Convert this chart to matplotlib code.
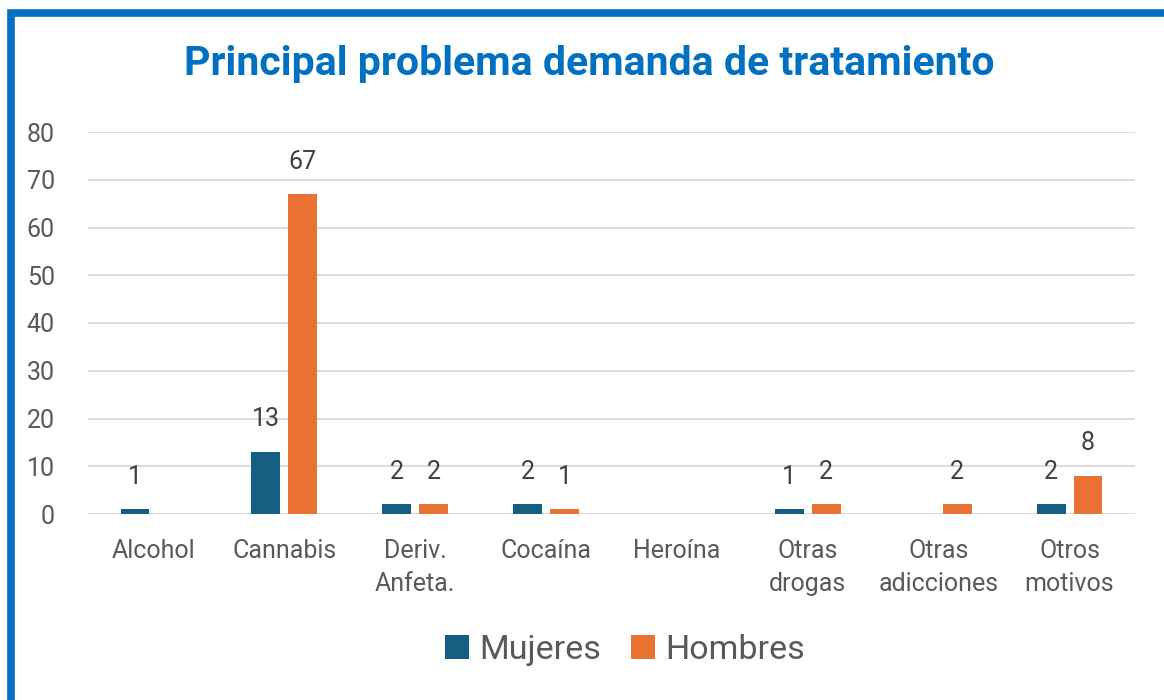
import matplotlib.pyplot as plt
import numpy as np
from matplotlib.patches import Rectangle

categorias = ['Alcohol', 'Cannabis', 'Deriv.\nAnfeta.', 'Cocaína', 'Heroína',
              'Otras\ndrogas', 'Otras\nadicciones', 'Otros\nmotivos']
mujeres = [1, 13, 2, 2, 0, 1, 0, 2]
hombres = [0, 67, 2, 1, 0, 2, 2, 8]

plt.rcParams['font.family'] = ['Roboto', 'DejaVu Sans']

fig = plt.figure(figsize=(11.64, 7), dpi=100)
ax = fig.add_axes([88/1164, 1-514/700, (1135-88)/1164, (514-132)/700])

x = np.arange(len(categorias))
w = 0.22
off = 0.141
b1 = ax.bar(x - off, mujeres, w, color='#156082', label='Mujeres', zorder=3)
b2 = ax.bar(x + off, hombres, w, color='#E97132', label='Hombres', zorder=3)

for bars, vals in ((b1, mujeres), (b2, hombres)):
    for r, v in zip(bars, vals):
        if v > 0:
            ax.text(r.get_x() + r.get_width()/2, v + 4.3, str(v), ha='center',
                    va='bottom', fontsize=18, color='#404040')

ax.set_xlim(-0.5, len(categorias) - 0.5)
ax.set_ylim(0, 80)
ax.set_yticks(range(0, 81, 10))
ax.set_xticks(x)
ax.set_xticklabels(categorias, linespacing=1.45)
ax.tick_params(axis='both', length=0, labelsize=18, labelcolor='#595959')
ax.tick_params(axis='x', pad=18)
ax.tick_params(axis='y', pad=24)
ax.grid(axis='y', color='#D9D9D9', linewidth=1.3, zorder=0)
for s in ax.spines.values():
    s.set_visible(False)

fig.text(0.506, 1-64/700, 'Principal problema demanda de tratamiento', ha='center',
         va='center', fontsize=29.5, fontweight='bold', color='#0070C0')

fig.legend(loc='center', bbox_to_anchor=(0.537, 1-650/700), ncol=2, frameon=False,
           fontsize=24.5, labelcolor='#595959', handlelength=0.7, handleheight=0.7,
           handletextpad=0.3, columnspacing=0.9)

# marco azul
fig.patches.append(Rectangle((11/1164, -0.05), 1.2, 1-13/700+0.05, transform=fig.transFigure,
                             fill=False, edgecolor='#0070C0', linewidth=5.5))

fig.savefig('out.png', dpi=100)
